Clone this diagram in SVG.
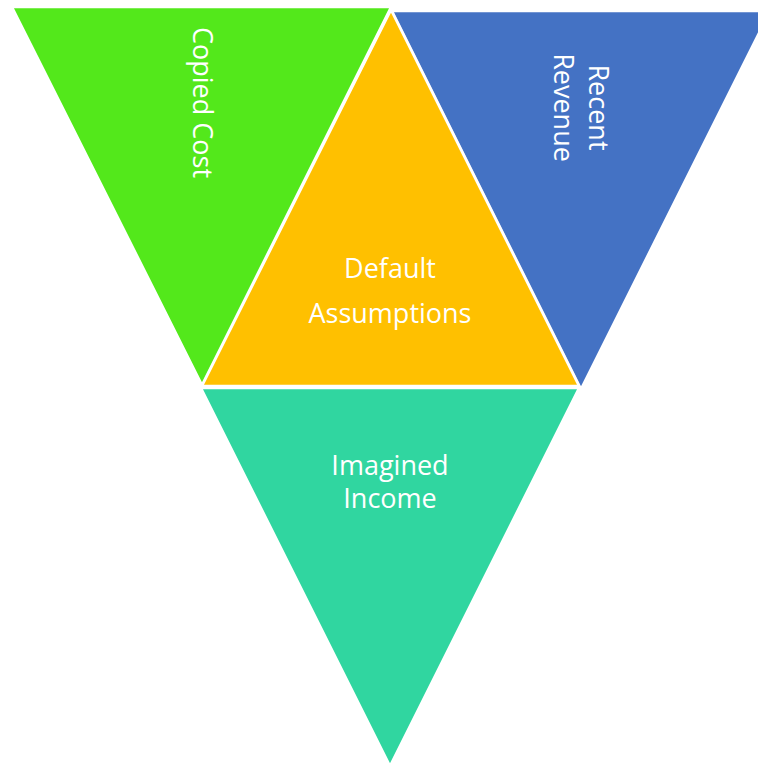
<svg xmlns="http://www.w3.org/2000/svg" width="758" height="766" viewBox="0 0 758 766">
<style>
.tri{stroke:#FFFFFF;stroke-width:2.5;stroke-linejoin:miter}
.lbl{font-family:"Open Sans","Liberation Sans",sans-serif;font-size:27px;fill:#FFFFFF;text-anchor:middle}
</style>
<rect width="758" height="766" fill="#FFFFFF"/>
<g id="copied-cost">
<polygon class="tri" points="12,7 391,7 202,385" fill="#53E81B"/>
<text class="lbl" transform="translate(193,102.5) rotate(90)">Copied Cost</text>
</g>
<g id="recent-revenue">
<polygon class="tri" points="392,11 770,11 581,389" fill="#4472C4"/>
<text class="lbl" transform="translate(589,107.5) rotate(90)">Recent</text>
<text class="lbl" transform="translate(554,107.5) rotate(90)">Revenue</text>
</g>
<g id="imagined-income">
<polygon class="tri" points="201,388 579,388 390,766" fill="#30D6A0"/>
<text class="lbl" x="390" y="475">Imagined</text>
<text class="lbl" x="390" y="508">Income</text>
</g>
<g id="default-assumptions">
<polygon class="tri" points="391,10 202,386 579,386" fill="#FFC000"/>
<text class="lbl" x="390" y="278">Default</text>
<text class="lbl" x="390" y="323">Assumptions</text>
</g>
<g id="connectors"></g>
</svg>
